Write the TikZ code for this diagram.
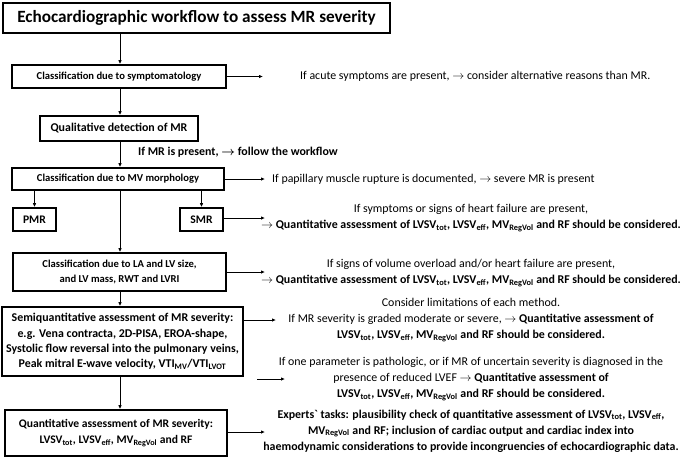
\documentclass[tikz,border=0pt]{standalone}
\usepackage{fontspec}
\usepackage{amsmath}
\setmainfont{Carlito}[Ligatures=TeXOff]
\usetikzlibrary{arrows.meta}
\newcommand{\sbs}[1]{\textsubscript{#1}}
\newcommand{\ra}{$\rightarrow$}
\newcommand{\bra}{$\boldsymbol{\rightarrow}$}
\begin{document}
\begin{tikzpicture}[x=1pt,y=-1pt,
 box/.style={draw, line width=1.6pt, font=\bfseries\fontsize{10.6}{15.5}\selectfont, align=center, inner sep=0pt},
 bigbox/.style={box, font=\bfseries\fontsize{11.9}{15.2}\selectfont},
 arr/.style={-{Latex[length=4pt,width=3.5pt]}, line width=0.9pt},
 note/.style={font=\fontsize{11.9}{16}\selectfont, align=center, inner sep=0pt},
 bnote/.style={note, font=\bfseries\fontsize{11.9}{16}\selectfont}
]
\useasboundingbox (0,0) rectangle (685,459);
\coordinate (col) at (120,0);
\node[box, minimum width=387pt, minimum height=30pt, font=\bfseries\fontsize{17.2}{20}\selectfont] (title) at (196.5,18) {Echocardiographic workflow to assess MR severity};
\node[box, minimum width=214pt, minimum height=23pt] (b2) at (119,76.5) {Classification due to symptomatology};
\node[bigbox, minimum width=158pt, minimum height=25pt] (b3) at (119,128.5) {Qualitative detection of MR};
\node[box, minimum width=212pt, minimum height=22pt] (b4) at (118,179) {Classification due to MV morphology};
\node[box, minimum width=43pt, minimum height=23pt, font=\bfseries\fontsize{11.6}{14}\selectfont] (pmr) at (34.5,219.5) {PMR};
\node[box, minimum width=43pt, minimum height=23pt, font=\bfseries\fontsize{11.6}{14}\selectfont] (smr) at (201.5,219.5) {SMR};
\node[box, minimum width=213pt, minimum height=38pt] (b5) at (119.5,272) {Classification due to LA and LV size,\\ and LV mass, RWT and LVRI};
\node[bigbox, minimum width=241pt, minimum height=69pt] (b6) at (122.5,341.5) {Semiquantitative assessment of MR severity:\\ e.g. Vena contracta, 2D-PISA, EROA-shape,\\ Systolic flow reversal into the pulmonary veins,\\ Peak mitral E-wave velocity, VTI\sbs{MV}/VTI\sbs{LVOT}};
\node[bigbox, minimum width=222pt, minimum height=46pt, font=\bfseries\fontsize{11.6}{16}\selectfont] (b7) at (116,433) {Quantitative assessment of MR severity:\\ LVSV\sbs{tot}, LVSV\sbs{eff}, MV\sbs{RegVol} and RF};

\node[note, anchor=west] (t2) at (300,76) {If acute symptoms are present, \ra{} consider alternative reasons than MR.};
\node[bnote, anchor=west] (lab) at (138,152) {If MR is present, \bra{} follow the workflow};
\node[note, anchor=west] (t4) at (272,179) {If papillary muscle rupture is documented, \ra{} severe MR is present};
\node[note] (t5) at (471,218) {If symptoms or signs of heart failure are present,\\ \ra{} \textbf{Quantitative assessment of LVSV\sbs{tot}, LVSV\sbs{eff}, MV\sbs{RegVol} and RF should be considered.}};
\node[note] (t6) at (471,273) {If signs of volume overload and/or heart failure are present,\\ \ra{} \textbf{Quantitative assessment of LVSV\sbs{tot}, LVSV\sbs{eff}, MV\sbs{RegVol} and RF should be considered.}};
\node[note] (t7) at (471,320) {Consider limitations of each method.\\ If MR severity is graded moderate or severe, \ra{} \textbf{Quantitative assessment of}\\ \textbf{LVSV\sbs{tot}, LVSV\sbs{eff}, MV\sbs{RegVol} and RF should be considered.}};
\node[note] (t8) at (471,379) {If one parameter is pathologic, or if MR of uncertain severity is diagnosed in the\\ presence of reduced LVEF \ra{} \textbf{Quantitative assessment of}\\ \textbf{LVSV\sbs{tot}, LVSV\sbs{eff}, MV\sbs{RegVol} and RF should be considered.}};
\node[bnote] (t9) at (471,431) {Experts` tasks: plausibility check of quantitative assessment of LVSV\sbs{tot}, LVSV\sbs{eff},\\ MV\sbs{RegVol} and RF; inclusion of cardiac output and cardiac index into\\ haemodynamic considerations to provide incongruencies of echocardiographic data.};

\coordinate (e2) at (263,76.5);
\coordinate (e4) at (265,179);
\coordinate (e5) at (265,218);
\coordinate (e6) at (265,272);
\coordinate (e7) at (276,320);
\coordinate (s8a) at (257,379);
\coordinate (s8b) at (285,379);
\coordinate (e9) at (265,432);

\draw[arr] (title.south -| col) -- (b2.north -| col);
\draw[arr] (b2.south -| col) -- (b3.north -| col);
\draw[arr] (b3.south -| col) -- (b4.north -| col);
\draw[arr] (b4.south -| col) -- (b5.north -| col);
\draw[arr] (b4.south -| pmr) -- (pmr.north);
\draw[arr] (b4.south -| smr) -- (smr.north);
\draw[arr] (b5.south -| col) -- (b6.north -| col);
\draw[arr] (b6.south -| col) -- (b7.north -| col);

\draw[arr] (b2.east) -- (e2);
\draw[arr] (b4.east) -- (e4);
\draw[arr] (smr.east |- e5) -- (e5);
\draw[arr] (b5.east |- e6) -- (e6);
\draw[arr] (b6.east |- e7) -- (e7);
\draw[arr] (s8a) -- (s8b);
\draw[arr] (b7.east |- e9) -- (e9);
\end{tikzpicture}
\end{document}
